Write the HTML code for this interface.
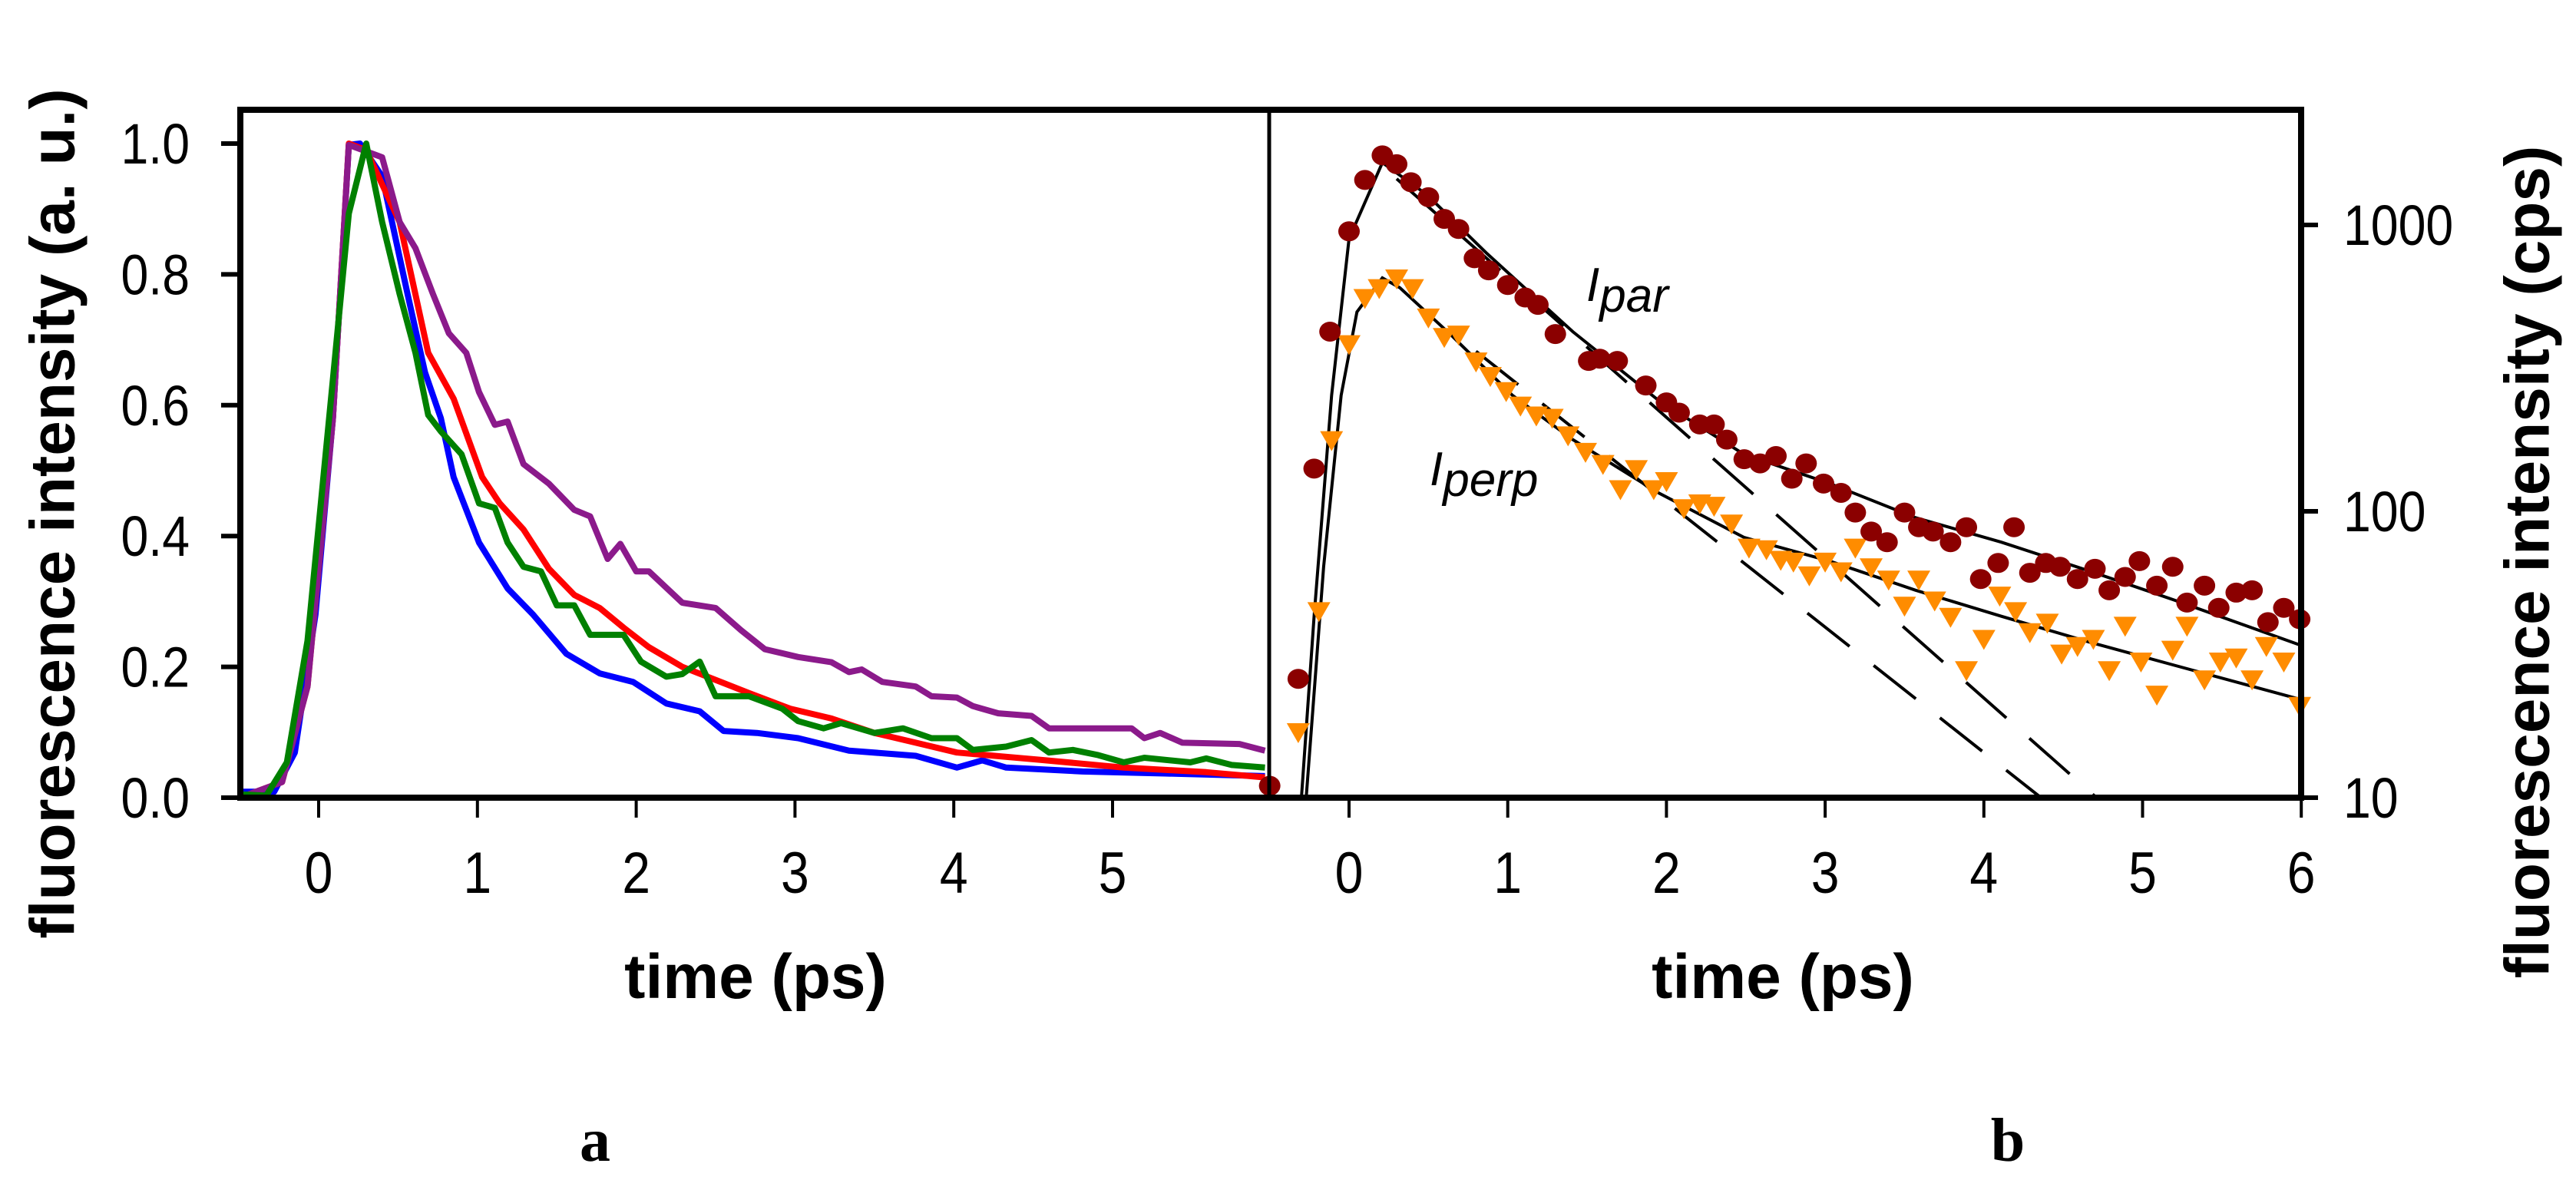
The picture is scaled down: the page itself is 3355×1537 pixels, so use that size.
<!DOCTYPE html>
<html><head><meta charset="utf-8"><style>
html,body{margin:0;padding:0;background:#fff;}
svg{display:block;}
text{font-family:"Liberation Sans",Arial,sans-serif;}
</style></head><body>
<svg id="chart" width="3355" height="1537" viewBox="0 0 3355 1537" xmlns="http://www.w3.org/2000/svg">
<g id="left"></g>
<g id="right"></g>
<text x="75" y="669" transform="rotate(-90 75 669)" text-anchor="middle" dominant-baseline="middle" font-size="82" font-weight="bold">fluorescence intensity (a. u.)</text>
<text x="3298" y="732" transform="rotate(-90 3298 732)" text-anchor="middle" dominant-baseline="middle" font-size="82" font-weight="bold">fluorescence intensity (cps)</text>
<text x="984" y="1300" text-anchor="middle" font-size="82" font-weight="bold">time (ps)</text>
<text x="2322" y="1300" text-anchor="middle" font-size="82" font-weight="bold">time (ps)</text>
<text x="775" y="1512" text-anchor="middle" font-size="80" font-weight="bold" style="font-family:'Liberation Serif',serif">a</text>
<text x="2615" y="1512" text-anchor="middle" font-size="80" font-weight="bold" style="font-family:'Liberation Serif',serif">b</text>
<text x="2066" y="392" font-size="62" font-style="italic">I<tspan dy="14">par</tspan></text>
<text x="1862" y="632" font-size="62" font-style="italic">I<tspan dy="14">perp</tspan></text>
</svg>
<script>
// ---- Panel a data ----
const blueT=[-0.5,-0.28,-0.15,-0.02,0.09,0.19,0.26,0.40,0.56,0.67,0.77,0.85,1.01,1.19,1.35,1.56,1.77,1.98,2.19,2.40,2.55,2.76,3.02,3.34,3.76,4.02,4.18,4.33,4.81,5.33,5.96];
const blueV=[0.009,0.009,0.069,0.28,0.58,0.998,1.0,0.95,0.77,0.65,0.58,0.49,0.39,0.32,0.28,0.22,0.19,0.177,0.144,0.132,0.102,0.099,0.091,0.072,0.064,0.046,0.057,0.046,0.040,0.037,0.033];
const redT=[-0.44,-0.23,-0.07,0.09,0.19,0.30,0.51,0.69,0.85,1.03,1.14,1.29,1.45,1.61,1.77,1.92,2.08,2.29,2.50,2.71,2.97,3.23,3.50,3.76,4.02,4.54,5.07,5.59,5.96];
const redV=[0.005,0.024,0.17,0.58,1.0,0.99,0.88,0.68,0.61,0.49,0.45,0.41,0.35,0.31,0.29,0.26,0.23,0.20,0.18,0.16,0.136,0.121,0.099,0.084,0.069,0.058,0.046,0.039,0.031];
const purpleT=[-0.44,-0.23,-0.07,0.09,0.19,0.40,0.51,0.61,0.72,0.82,0.93,1.01,1.11,1.19,1.29,1.45,1.61,1.71,1.82,1.90,2.00,2.08,2.29,2.50,2.66,2.81,3.02,3.23,3.34,3.42,3.55,3.76,3.86,4.02,4.12,4.28,4.49,4.60,4.81,5.12,5.20,5.30,5.44,5.80,5.96];
const purpleV=[0.005,0.024,0.17,0.58,0.998,0.979,0.88,0.84,0.77,0.71,0.68,0.62,0.57,0.575,0.51,0.48,0.44,0.43,0.365,0.388,0.346,0.346,0.298,0.290,0.256,0.227,0.215,0.207,0.192,0.196,0.177,0.170,0.155,0.153,0.140,0.129,0.125,0.106,0.106,0.106,0.091,0.099,0.084,0.082,0.072];
const greenT=[-0.49,-0.33,-0.20,-0.07,0.09,0.19,0.30,0.40,0.51,0.61,0.69,0.77,0.90,1.01,1.11,1.19,1.29,1.40,1.50,1.61,1.71,1.92,2.03,2.19,2.29,2.40,2.50,2.71,2.92,3.02,3.18,3.29,3.50,3.68,3.86,4.02,4.12,4.33,4.49,4.60,4.75,4.91,5.07,5.20,5.49,5.59,5.75,5.96];
const greenV=[0.005,0.003,0.054,0.24,0.64,0.893,1.0,0.88,0.77,0.68,0.585,0.56,0.525,0.45,0.443,0.39,0.353,0.346,0.294,0.294,0.249,0.249,0.208,0.185,0.189,0.208,0.155,0.155,0.136,0.117,0.106,0.114,0.099,0.106,0.091,0.091,0.073,0.078,0.088,0.069,0.073,0.065,0.054,0.061,0.054,0.06,0.05,0.046];
const leftYTicks=[0,0.2,0.4,0.6,0.8,1.0];
const leftYLabels=["0.0","0.2","0.4","0.6","0.8","1.0"];
const leftXTicks=[0,1,2,3,4,5];
// ---- Panel b data ----
const parT=[-0.5,-0.32,-0.22,-0.12,0.00,0.10,0.21,0.30,0.39,0.50,0.60,0.69,0.79,0.88,1.00,1.11,1.19,1.30,1.51,1.58,1.69,1.87,2.00,2.08,2.21,2.30,2.38,2.49,2.59,2.69,2.79,2.88,2.99,3.10,3.19,3.29,3.39,3.50,3.59,3.68,3.79,3.89,3.98,4.09,4.19,4.29,4.39,4.48,4.59,4.70,4.79,4.89,4.98,5.09,5.19,5.28,5.39,5.48,5.59,5.69,5.79,5.89,5.99];
const parV=[11,26,141,424,950,1436,1750,1630,1410,1250,1050,968,765,694,617,558,526,416,335,341,335,275,240,221,201,201,178,152,147,156,130,147,125,116,99,85,78,99,88,85,78,88,58,66,88,61,66,64,58,63,53,59,67,55,64,48,55,46,52,53,41,46,42];
const perpT=[-0.32,-0.19,-0.11,0,0.10,0.19,0.30,0.40,0.50,0.60,0.69,0.80,0.89,0.99,1.08,1.18,1.28,1.38,1.49,1.60,1.71,1.81,1.92,2.00,2.11,2.21,2.30,2.41,2.52,2.63,2.72,2.80,2.90,3.00,3.10,3.19,3.29,3.40,3.50,3.59,3.69,3.79,3.89,4.00,4.10,4.20,4.29,4.40,4.49,4.59,4.69,4.79,4.89,4.99,5.09,5.19,5.28,5.39,5.49,5.59,5.69,5.78,5.89,5.99];
const perpV=[17,45,178,385,558,604,653,604,477,408,416,335,298,264,235,217,213,185,162,147,120,141,120,128,103,107,105,91,75,74,68,67,60,67,62,75,64,58,47,58,49,43,28,36,51,45,38,41,32,34,36,28,40,30,23,33,40,26,30,31,26,34,30,21];
const parFitT=[-0.30,-0.22,-0.11,0,0.21,0.49,0.87,1.41,1.95,2.49,3.03,3.57,4.11,4.66,5.20,6.00];
const parFitV=[10,43,254,895,1650,1276,794,424,244,158,125,95,78,62,49,34];
const perpFitT=[-0.27,-0.16,-0.05,0.05,0.21,0.32,0.65,1.03,1.41,1.95,2.49,3.03,3.57,4.11,4.66,5.20,6.00];
const perpFitV=[10,64,254,497,653,604,409,254,178,116,81,67,53,43,35,29,22];
const dashParT=[0.3,4.71];
const dashParV=[1449,10];
const dashPerpT=[0.8,4.36];
const dashPerpV=[362,10];
const rightYTicks=[10,100,1000];
const rightXTicks=[0,1,2,3,4,5,6];

const NS="http://www.w3.org/2000/svg";
function mk(parent,tag,attrs){const e=document.createElementNS(NS,tag);for(const k in attrs)e.setAttribute(k,attrs[k]);parent.appendChild(e);return e;}
const L={x0:313,x1:1653,y0:1039,y1:143};
const xa=t=>415+t*206.8;
const ya=v=>1039-v*852;
const R={x0:1653,x1:2997};
const xb=t=>1757+t*206.7;
const yb=v=>1039-(Math.log10(v)-1)*373;
const SX=0.87;

const gl=document.getElementById('left'), gr=document.getElementById('right');
function path(T,V,fx,fy){let d='';for(let i=0;i<T.length;i++){d+=(i?'L':'M')+fx(T[i]).toFixed(1)+','+fy(V[i]).toFixed(1);}return d;}

[[blueT,blueV,'#0000ff','series-blue'],[redT,redV,'#ff0000','series-red'],[purpleT,purpleV,'#8b1a8b','series-purple'],[greenT,greenV,'#008000','series-green']].forEach(s=>{
 const p=mk(gl,'path',{d:path(s[0],s[1],xa,ya),fill:'none',stroke:s[2],'stroke-width':8,'stroke-linejoin':'round'});
 
 
});
leftYTicks.forEach((v,i)=>{
 const t=mk(gl,'line',{x1:288,x2:L.x0,y1:ya(v),y2:ya(v),stroke:'#000','stroke-width':6});
 
 
 const lb=mk(gl,'text',{x:247/SX,y:ya(v)+26,'text-anchor':'end','font-size':74,transform:`scale(${SX},1)`});
 lb.textContent=leftYLabels[i];
 
 
});
leftXTicks.forEach(v=>{
 const t=mk(gl,'line',{x1:xa(v),x2:xa(v),y1:L.y0,y2:L.y0+26,stroke:'#000','stroke-width':4});
 
 
 const lb=mk(gl,'text',{x:xa(v)/SX,y:1163,'text-anchor':'middle','font-size':76,transform:`scale(${SX},1)`});
 lb.textContent=String(v);
 
 
});
[[parFitT,parFitV,'fit-par'],[perpFitT,perpFitV,'fit-perp']].forEach(s=>{
 const p=mk(gr,'path',{d:path(s[0],s[1],xb,yb),fill:'none',stroke:'#000','stroke-width':4});
 
 
});
[[dashParT,dashParV,'dashed-par'],[dashPerpT,dashPerpV,'dashed-perp']].forEach(s=>{
 const p=mk(gr,'path',{d:path(s[0],s[1],xb,yb),fill:'none',stroke:'#000','stroke-width':4,'stroke-dasharray':'70,40'});
 
 
});
for(let i=0;i<perpT.length;i++){
 const x=xb(perpT[i]),y=yb(perpV[i]);
 const m=mk(gr,'polygon',{points:`${x-15},${y-11} ${x+15},${y-11} ${x},${y+15}`,fill:'#ff8c00'});
 
 
}
for(let i=0;i<parT.length;i++){
 const m=mk(gr,'ellipse',{cx:xb(parT[i]),cy:yb(parV[i]),rx:14,ry:13,fill:'#8b0000'});
 
 
}
rightYTicks.forEach(v=>{
 const t=mk(gr,'line',{x1:R.x1,x2:R.x1+22,y1:yb(v),y2:yb(v),stroke:'#000','stroke-width':6});
 
 
 const lb=mk(gr,'text',{x:3052/SX,y:yb(v)+26,'text-anchor':'start','font-size':74,transform:`scale(${SX},1)`});
 lb.textContent=String(v);
 
 
});
rightXTicks.forEach(v=>{
 const t=mk(gr,'line',{x1:xb(v),x2:xb(v),y1:L.y0,y2:L.y0+26,stroke:'#000','stroke-width':4});
 
 
 const lb=mk(gr,'text',{x:xb(v)/SX,y:1163,'text-anchor':'middle','font-size':76,transform:`scale(${SX},1)`});
 lb.textContent=String(v);
 
 
});
const frame=mk(document.getElementById('chart'),'rect',{x:L.x0,y:L.y1,width:R.x1-L.x0,height:L.y0-L.y1,fill:'none',stroke:'#000','stroke-width':8});


const div=mk(document.getElementById('chart'),'line',{x1:1653,x2:1653,y1:L.y1,y2:L.y0,stroke:'#000','stroke-width':5});


</script>
</body></html>
